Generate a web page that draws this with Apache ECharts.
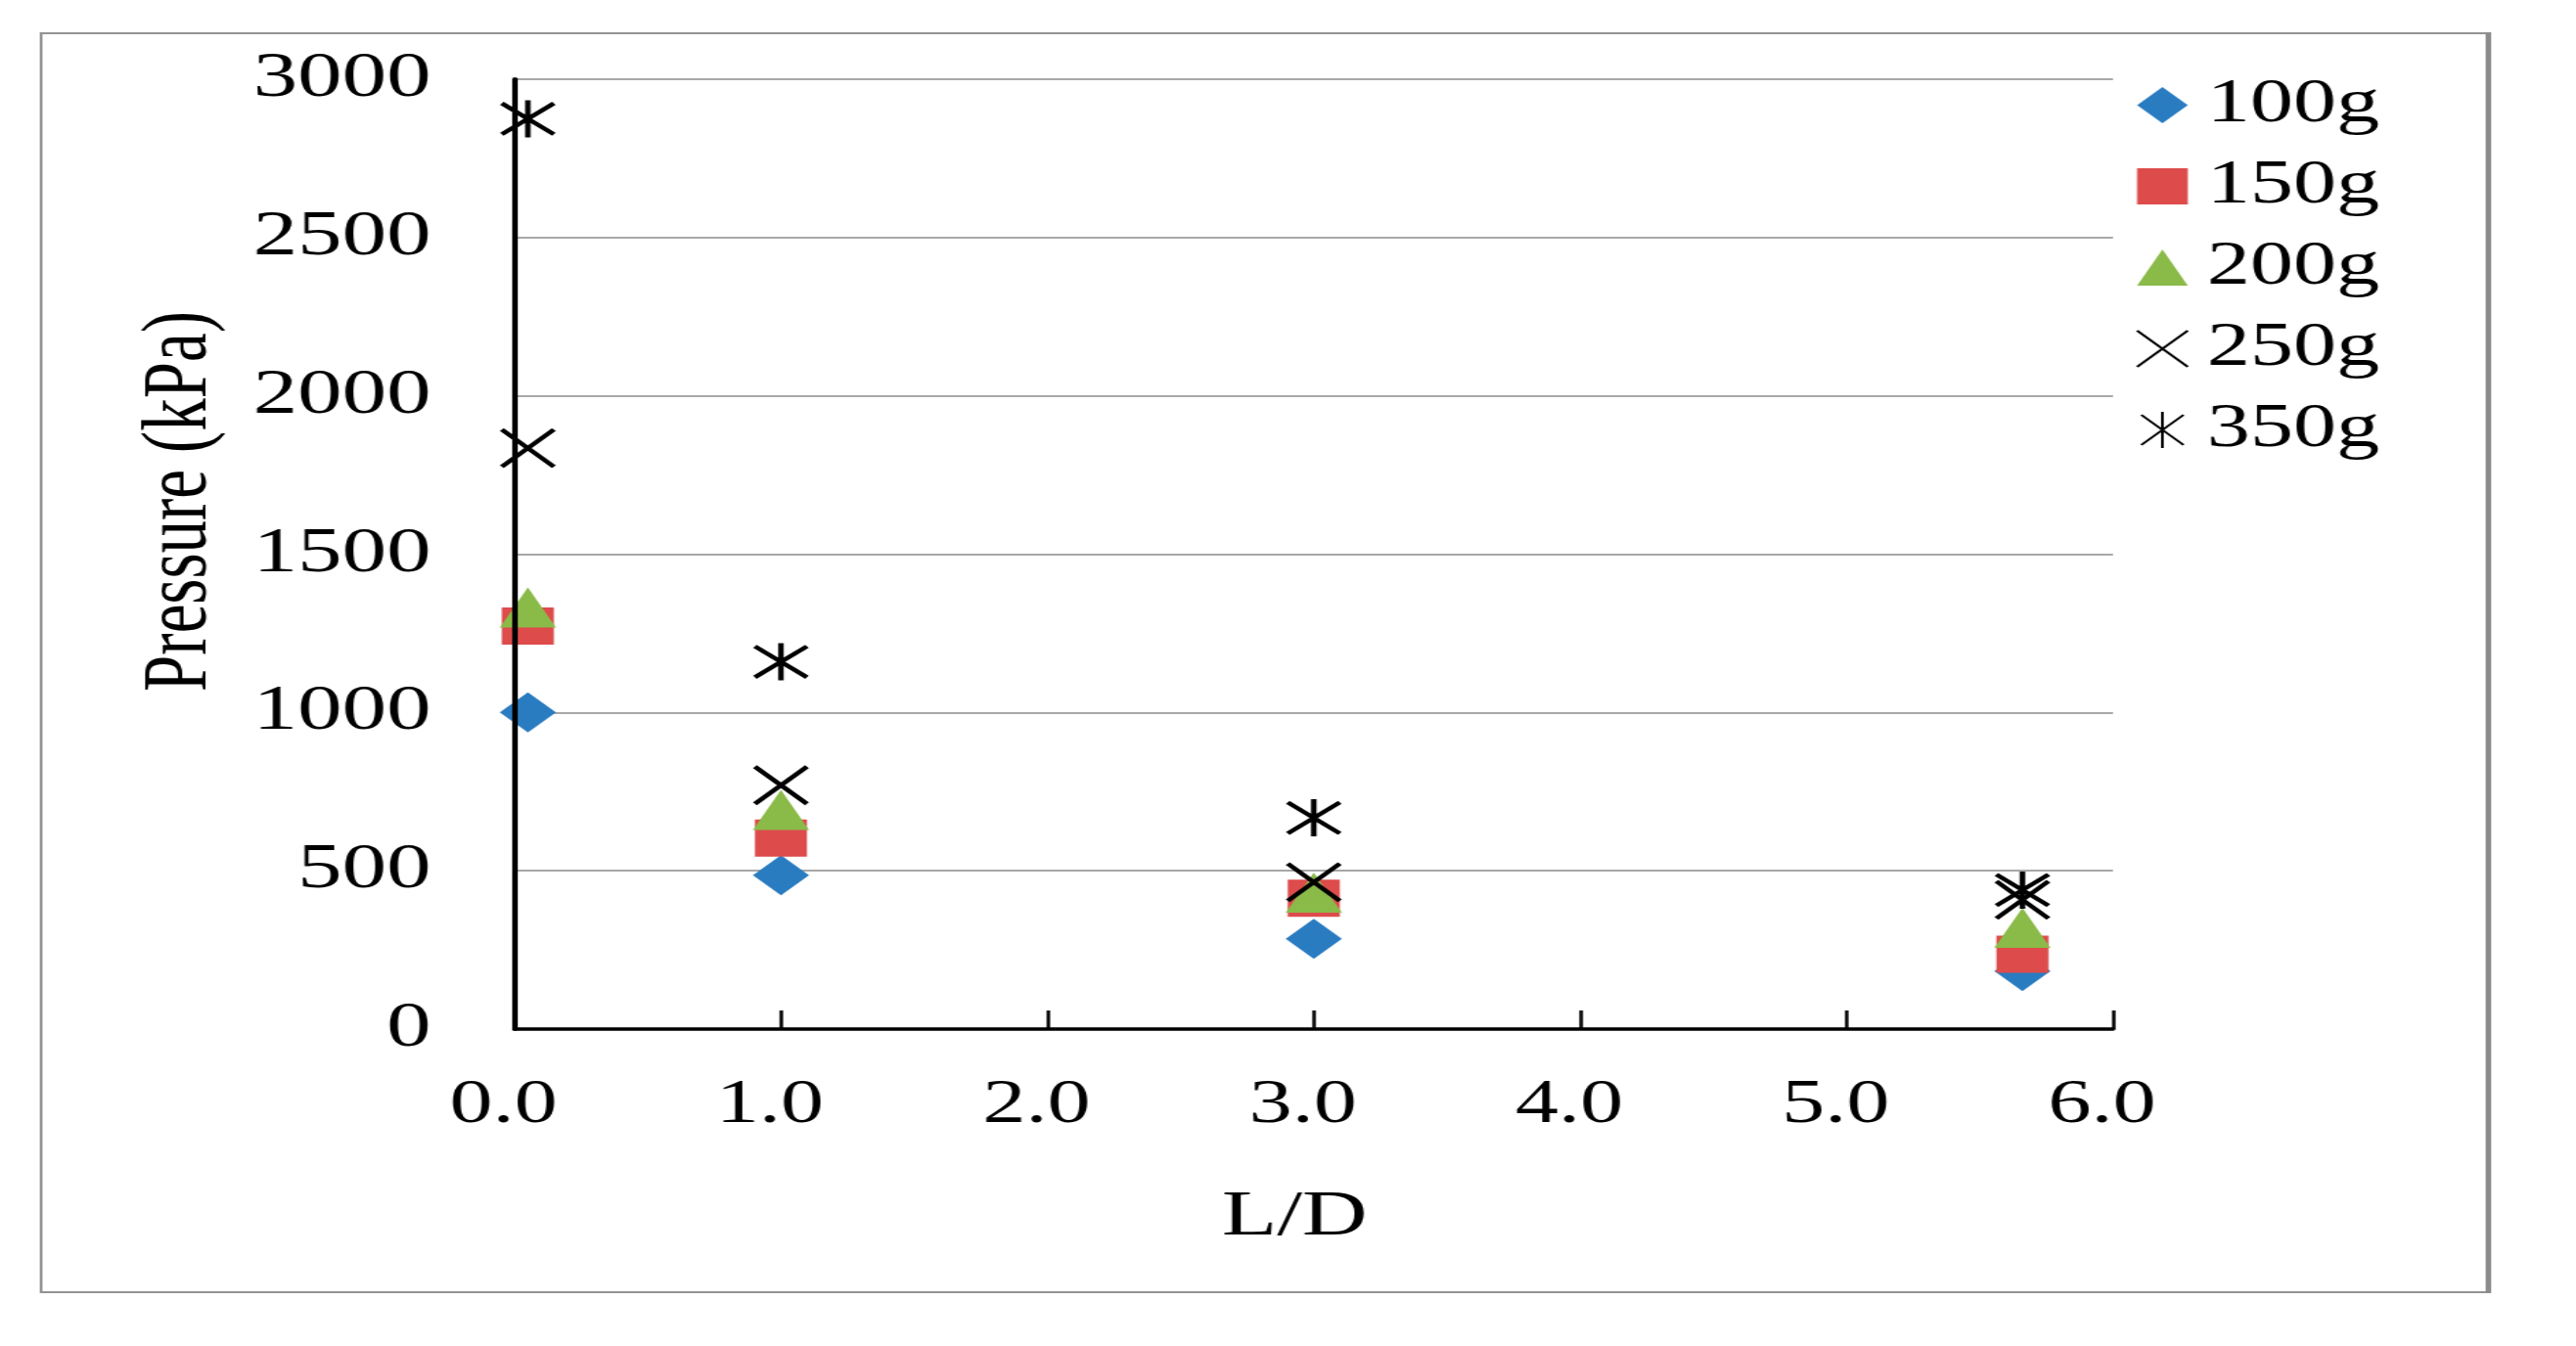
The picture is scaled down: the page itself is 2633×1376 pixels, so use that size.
<!DOCTYPE html>
<html>
<head>
<meta charset="utf-8">
<script src="https://cdn.jsdelivr.net/npm/echarts@6/dist/echarts.min.js"></script>
<style>
  html, body { margin: 0; padding: 0; background: #fff; overflow: hidden; }
  #chart { width: 1881px; height: 1376px; transform: scaleX(1.39979); transform-origin: 0 0; }
</style>
</head>
<body>
<div id="chart"></div>
<script>
// ---- data ----
const xValues = [0.05, 1.0, 3.0, 5.66];
const s100g = [1000, 486, 285, 183];
const s150g = [1273, 603, 413, 236];
const s200g = [1332, 692, 431, 320];
const s250g = [1835, 770, 464, 408];
const s350g = [2875, 1160, 667, 439];
const seriesNames = ['100g', '150g', '200g', '250g', '350g'];
const xTickLabels = ['0.0', '1.0', '2.0', '3.0', '4.0', '5.0', '6.0'];
const yTickLabels = ['0', '500', '1000', '1500', '2000', '2500', '3000'];

const FONT = "'Liberation Serif', 'Times New Roman', serif";
const pts = arr => xValues.map((x, i) => [x, arr[i]]);

const chart = echarts.init(document.getElementById('chart'), null, { renderer: 'canvas' });

const crossPath = 'path://M0,0L10,10M10,0L0,10';
const starPath = 'path://M0,0L10,10M10,0L0,10M5,-1L5,11';

const option = {
  backgroundColor: '#ffffff',
  animation: false,
  graphic: [
    { type: 'rect', shape: { x: 30, y: 34, width: 1787, height: 1287 },
      style: { fill: 'none', stroke: '#939393', lineWidth: 2 }, z: 0 },
    { type: 'line', shape: { x1: 1817, y1: 33, x2: 1817, y2: 1322 },
      style: { stroke: '#8c8c8c', lineWidth: 4 }, z: 0 }
  ],
  grid: { left: 375.7, right: 338.1, top: 81, bottom: 324 },
  legend: {
    orient: 'vertical',
    left: 1553,
    top: 71,
    itemWidth: 37,
    itemHeight: 37,
    itemGap: 20,
    textStyle: { fontFamily: FONT, fontSize: 63, color: '#000', padding: [0, 0, 0, 9] },
    data: seriesNames
  },
  xAxis: {
    type: 'value',
    min: 0, max: 6, interval: 1,
    name: 'L/D',
    nameLocation: 'middle',
    nameGap: 160,
    nameTextStyle: { fontFamily: FONT, fontSize: 66, color: '#000', padding: [0, 28, 0, 0] },
    axisLine: { show: true, onZero: false, lineStyle: { color: '#000', width: 3.5 } },
    axisTick: { show: true, inside: true, length: 19, lineStyle: { color: '#000', width: 2.5 } },
    axisLabel: {
      fontFamily: FONT, fontSize: 63, color: '#000', margin: 47,
      padding: [0, 16, 0, 0],
      formatter: v => xTickLabels[Math.round(v)]
    },
    splitLine: { show: false }
  },
  yAxis: [{
    type: 'value',
    min: 0, max: 3000, interval: 500,
    name: 'Pressure (kPa)',
    nameLocation: 'middle',
    nameRotate: 90,
    nameGap: 210,
    nameTextStyle: { fontFamily: FONT, fontSize: 67, color: '#000', padding: [0, 0, 0, 108] },
    axisLine: { show: false },
    axisTick: { show: false },
    axisLabel: {
      fontFamily: FONT, fontSize: 65, color: '#000', margin: 61,
      padding: [16, 0, 0, 0],
      formatter: v => yTickLabels[Math.round(v / 500)]
    },
    splitLine: { show: true, lineStyle: { color: '#a8a8a8', width: 2 } }
  }, {
    type: 'value',
    min: 0, max: 3000, interval: 500,
    position: 'left',
    z: 10,
    axisLine: { show: true, onZero: false, lineStyle: { color: '#000', width: 4 } },
    axisTick: { show: false },
    axisLabel: { show: false },
    splitLine: { show: false }
  }],
  series: [
    { name: '100g', type: 'scatter', data: pts(s100g), symbol: 'diamond', symbolSize: 41,
      itemStyle: { color: '#2a7cc1', opacity: 1 } },
    { name: '150g', type: 'scatter', data: pts(s150g), symbol: 'rect', symbolSize: 38,
      itemStyle: { color: '#dd4b4b', opacity: 1 } },
    { name: '200g', type: 'scatter', data: pts(s200g), symbol: 'triangle', symbolSize: 41,
      itemStyle: { color: '#8aba48', opacity: 1 } },
    { name: '250g', type: 'scatter', data: pts(s250g), symbol: crossPath, symbolSize: 38,
      itemStyle: { color: 'none', borderColor: '#000', borderWidth: 4, opacity: 1 } },
    { name: '350g', type: 'scatter', data: pts(s350g), symbol: starPath, symbolSize: 38,
      itemStyle: { color: 'none', borderColor: '#000', borderWidth: 4, opacity: 1 } }
  ]
};
chart.setOption(option);
</script>
</body>
</html>
